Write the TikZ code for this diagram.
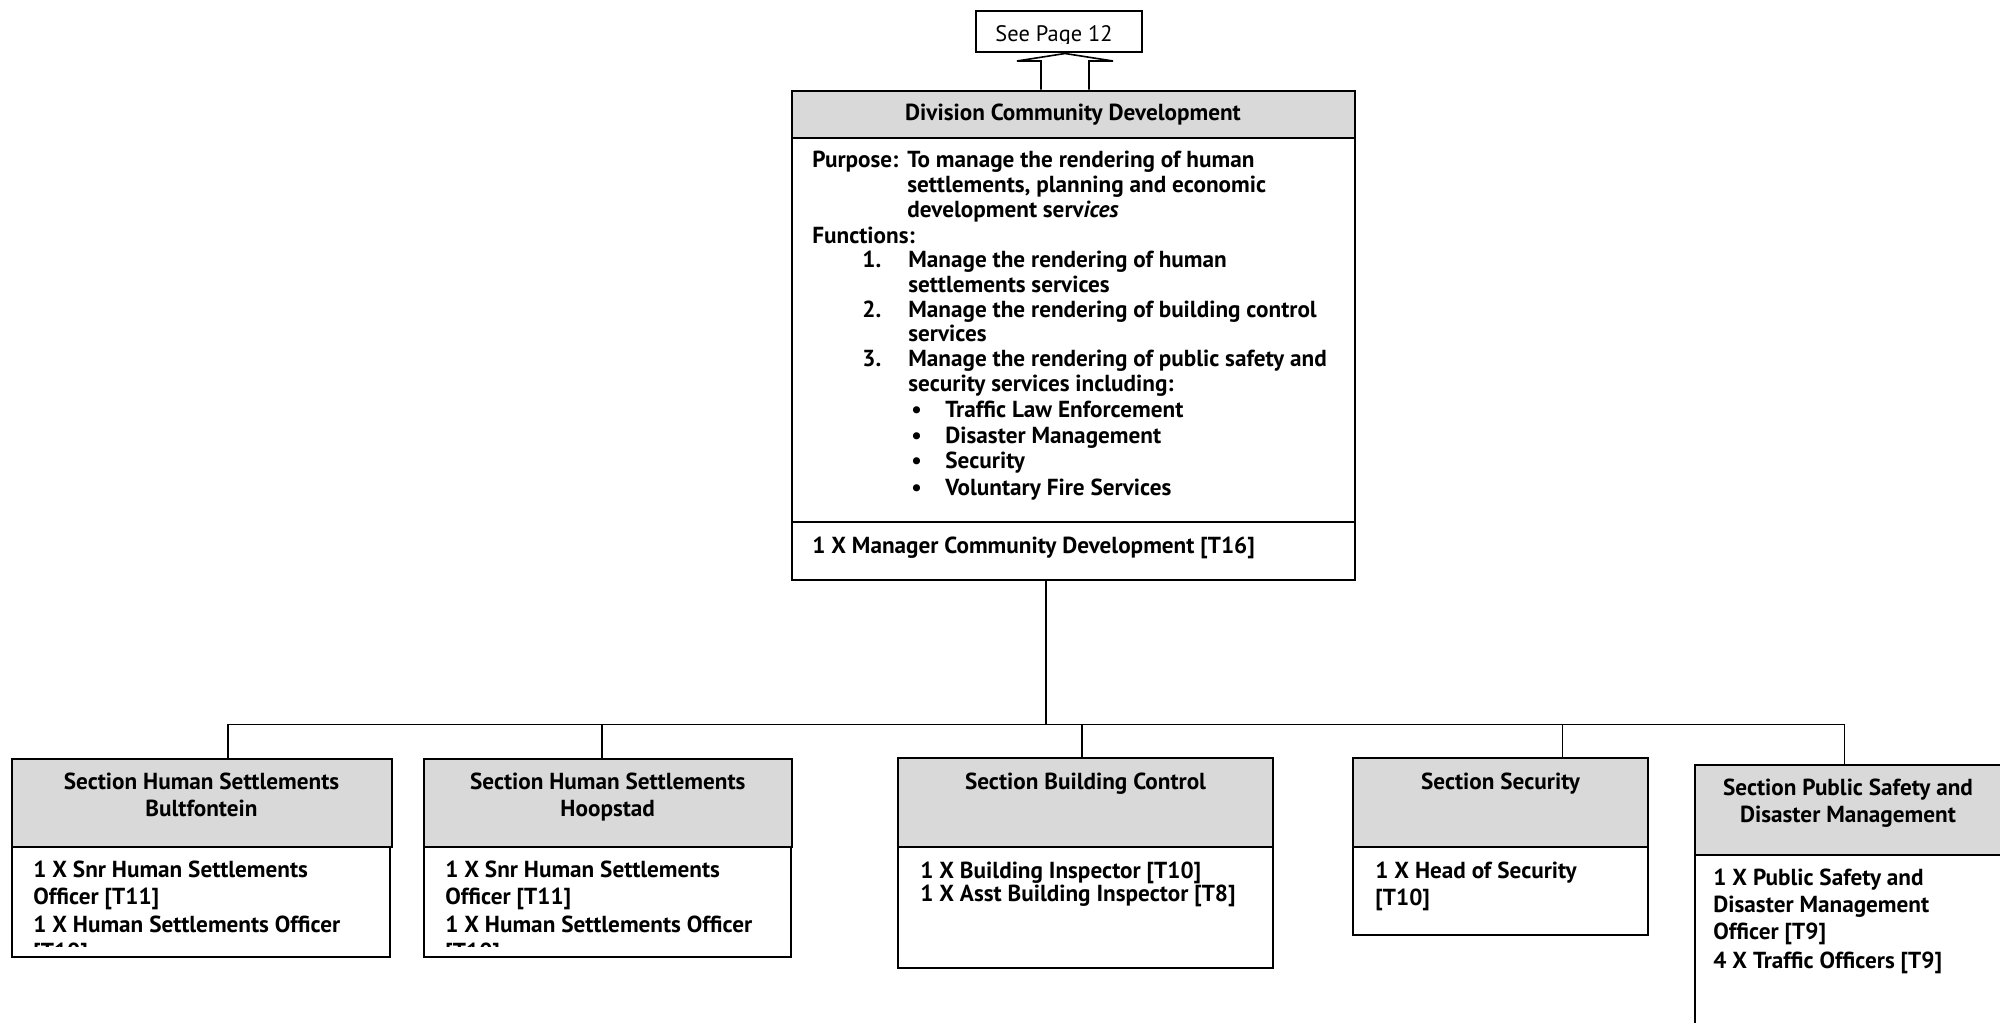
\documentclass[tikz,border=0pt]{standalone}
\usepackage{fontspec}
\setmainfont{PT Sans}
\usetikzlibrary{fit}
\definecolor{hdrgray}{HTML}{D9D9D9}
\newcommand{\bodyfont}{\bfseries\fontsize{11.6}{13}\selectfont}
\begin{document}
\begin{tikzpicture}[x=0.5pt,y=-0.5pt,
  frame/.style={draw, line width=1pt, inner sep=0pt},
  hdr/.style={frame, fill=hdrgray},
  lbl/.style={anchor=base west, inner sep=0pt, font=\bodyfont, yshift=-0.8pt},
  title/.style={anchor=base, inner sep=0pt, font=\bodyfont, yshift=-0.8pt},
  link/.style={line width=0.9pt}]
\useasboundingbox (0,0) rectangle (2000,1022);

% reference box at the top
\node[frame, fit={(976,11.5) (1142,52.5)}] (see) {};
\begin{scope}
  \clip (976,11.5) rectangle (1142,44);
  \node[anchor=base, inner sep=0pt, font=\fontsize{11.2}{13}\selectfont] (seetxt) at (1054,42) {See Page 12};
\end{scope}

% division box: title, description, post
\node[hdr, fit={(792,90.6) (1354.6,137.8)}] (divhead) {};
\node[frame, fit={(792,137.8) (1354.6,521.7)}] (divbody) {};
\node[frame, fit={(792,521.7) (1354.6,580)}] (divfoot) {};

% block arrow pointing up to the reference box
\draw[line width=0.8pt, fill=white]
  (1041,0 |- divhead.north) -- (1041,61) -- (1017,61) -- (see.south -| 1065,0)
  -- (1113,61) -- (1089,61) -- (1089,0 |- divhead.north);

\node[title] (divtitle) at (1073,119) {Division Community Development};
\node[lbl] (purp) at (812,166) {Purpose:};
\node[lbl] (purp1) at (907,166) {To manage the rendering of human};
\node[lbl] (purp2) at (907,191) {settlements, planning and economic};
\node[lbl] (purp3) at (907,216) {development serv\textit{ices}};
\node[lbl] (func) at (812,242) {Functions:};
\node[lbl] (n1) at (862,266) {1.};
\node[lbl] (f1a) at (908,266) {Manage the rendering of human};
\node[lbl] (f1b) at (908,291) {settlements services};
\node[lbl] (n2) at (862,316) {2.};
\node[lbl] (f2a) at (908,316) {Manage the rendering of building control};
\node[lbl] (f2b) at (908,340) {services};
\node[lbl] (n3) at (862,365) {3.};
\node[lbl] (f3a) at (908,365) {Manage the rendering of public safety and};
\node[lbl] (f3b) at (908,390) {security services including:};
\node[lbl] (b1) at (911,416) {\textbullet};
\node[lbl] (b1t) at (945,416) {Traffic Law Enforcement};
\node[lbl] (b2) at (911,442) {\textbullet};
\node[lbl] (b2t) at (945,442) {Disaster Management};
\node[lbl] (b3) at (911,467) {\textbullet};
\node[lbl] (b3t) at (945,467) {Security};
\node[lbl] (b4) at (911,494) {\textbullet};
\node[lbl] (b4t) at (945,494) {Voluntary Fire Services};
\node[lbl] (mgr) at (812,552) {1 X Manager Community Development [T16]};

% section boxes
\node[frame, fit={(11.5,847) (390,956.6)}] (s1body) {};
\node[hdr, fit={(11.5,759) (392,847)}] (s1head) {};
\node[frame, fit={(423.5,847) (791,956.6)}] (s2body) {};
\node[hdr, fit={(423.5,759) (792,847)}] (s2head) {};
\node[frame, fit={(898,847) (1273,968)}] (s3body) {};
\node[hdr, fit={(898,758) (1273,847)}] (s3head) {};
\node[frame, fit={(1353,847) (1648,935)}] (s4body) {};
\node[hdr, fit={(1353,758) (1648,847)}] (s4head) {};
\node[frame, fit={(1695,855) (2006,1032)}] (s5body) {};
\node[hdr, fit={(1695,765) (2006,855)}] (s5head) {};

% reporting lines
\coordinate (bus) at (0,724.5);
\draw[link] (divfoot.south -| 1046,0) -- (1046,0 |- bus);
\draw[link] (228,0 |- s1head.north) -- (228,0 |- bus) -- (1844.4,0 |- bus) -- (1844.4,0 |- s5head.north);
\draw[link] (602,0 |- bus) -- (602,0 |- s2head.north);
\draw[link] (1081.6,0 |- bus) -- (1081.6,0 |- s3head.north);
\draw[link] (1562.5,0 |- bus) -- (1562.5,0 |- s4head.north);

% section titles
\node[title] (t1a) at (201.5,788) {Section Human Settlements};
\node[title] (t1b) at (201.5,815) {Bultfontein};
\node[title] (t2a) at (607.7,788) {Section Human Settlements};
\node[title] (t2b) at (607.7,815) {Hoopstad};
\node[title] (t3) at (1085.5,788) {Section Building Control};
\node[title] (t4) at (1500.5,788) {Section Security};
\node[title] (t5a) at (1848,794) {Section Public Safety and};
\node[title] (t5b) at (1848,821) {Disaster Management};

% section posts
\begin{scope}
  \clip (11.5,847) rectangle (392,946);
  \node[lbl] (p1a) at (33,876) {1 X Snr Human Settlements};
  \node[lbl] (p1b) at (33,903) {Officer [T11]};
  \node[lbl] (p1c) at (33,930.5) {1 X Human Settlements Officer};
  \node[lbl] (p1d) at (33,958) {[T10]};
\end{scope}
\begin{scope}
  \clip (423.5,847) rectangle (792,946);
  \node[lbl] (p2a) at (445,876) {1 X Snr Human Settlements};
  \node[lbl] (p2b) at (445,903) {Officer [T11]};
  \node[lbl] (p2c) at (445,930.5) {1 X Human Settlements Officer};
  \node[lbl] (p2d) at (445,958) {[T10]};
\end{scope}
\node[lbl] (p3a) at (920,877) {1 X Building Inspector [T10]};
\node[lbl] (p3b) at (920,900) {1 X Asst Building Inspector [T8]};
\node[lbl] (p4a) at (1375,877) {1 X Head of Security};
\node[lbl] (p4b) at (1375,904) {[T10]};
\node[lbl] (p5a) at (1713,884) {1 X Public Safety and};
\node[lbl] (p5b) at (1713,911) {Disaster Management};
\node[lbl] (p5c) at (1713,938) {Officer [T9]};
\node[lbl] (p5d) at (1713,967) {4 X Traffic Officers [T9]};
\end{tikzpicture}
\end{document}
